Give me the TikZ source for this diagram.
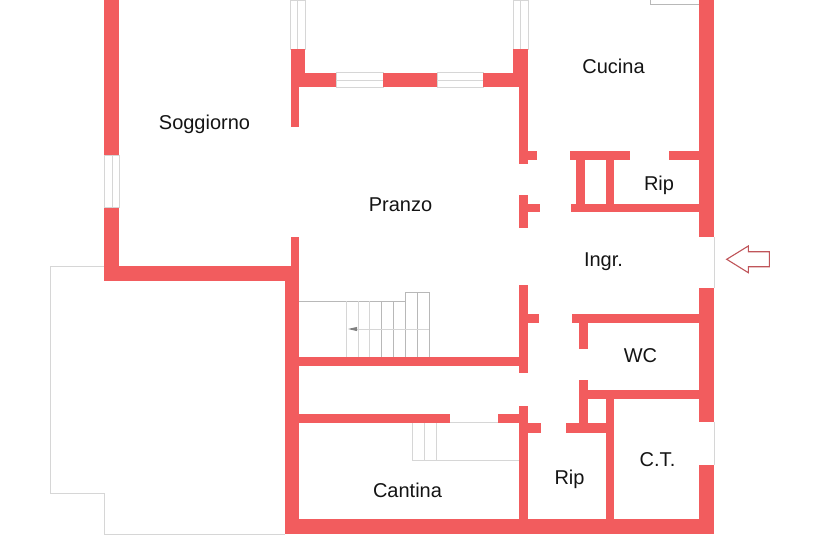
\documentclass[tikz,border=0pt]{standalone}
\usepackage{fontspec}
\setmainfont{Liberation Sans}
\definecolor{wallred}{HTML}{F25C5E}
\definecolor{thinline}{HTML}{D6D6D6}
\definecolor{arrowred}{HTML}{C0555A}
\newcommand{\wallrect}[4]{\fill[wallred] (#1,#2) rectangle (#3,#4);}
\newcommand{\winrect}[4]{\draw[thinmark,fill=white] (#1,#2) rectangle (#3,#4);}
\tikzset{
  thinmark/.style={draw=thinline,line width=0.9pt},
  stairmark/.style={draw=black!28,line width=0.7pt},
  stairlight/.style={draw=thinline,line width=0.8pt},
  roomlabel/.style={font=\fontsize{20}{24}\selectfont,text=black!92,inner sep=0pt}
}
\begin{document}
\begin{tikzpicture}[x=1pt,y=-1pt]
\useasboundingbox (0,0) rectangle (818,540);
\fill[white] (0,0) rectangle (818,540);
% outlines
\draw[thinmark] (104,266) -- (50.7,266) -- (50.7,493.3) -- (104,493.3) -- (104,534.3) -- (285,534.3);
\draw[stairmark] (650,0) -- (650,4.3) -- (699.3,4.3);
\draw[thinmark] (714.2,237) -- (714.2,288.3);
\draw[thinmark] (714.2,421.7) -- (714.2,465);
% windows
\winrect{104.5}{155}{119.5}{207.5}
\draw[thinmark] (112,155) -- (112,207.5);
\winrect{290.5}{0}{305.3}{49}
\draw[thinmark] (297.8,0) -- (297.8,49);
\winrect{513.5}{0}{528.3}{49}
\draw[thinmark] (520.8,0) -- (520.8,49);
\winrect{336}{72.7}{383}{87.3}
\draw[thinmark] (336,80) -- (383,80);
\winrect{437}{72.7}{483}{87.3}
\draw[thinmark] (437,80) -- (483,80);
% stairs
\draw[stairmark] (299,301) -- (405.3,301);
\draw[stairmark] (405.3,292.3) -- (429,292.3);
\foreach \sx in {346,358,369.3} {\draw[stairlight] (\sx,301) -- (\sx,357.5);}
\foreach \sx in {381.3,393.3} {\draw[stairmark] (\sx,301) -- (\sx,357.5);}
\foreach \sx in {405.3,417.3,429} {\draw[stairmark] (\sx,292.3) -- (\sx,357.5);}
\draw[stairlight] (357,329) -- (429,329);
\fill[black!50] (348,329) -- (357,326.9) -- (357,331.1) -- cycle;
\draw[stairlight] (450,422.7) -- (498.3,422.7);
\foreach \sx in {412.3,424.3,436.3} {\draw[stairlight] (\sx,422.7) -- (\sx,460.3);}
\draw[stairlight] (412.3,460.3) -- (519.3,460.3);
% exterior and left walls
\wallrect{104.3}{0}{119}{155}
\wallrect{104.3}{207.5}{119}{281}
\wallrect{104.3}{266}{299.3}{281}
\wallrect{290.5}{237}{299.3}{281}
\wallrect{285}{281}{299.3}{534.3}
\wallrect{285}{519.3}{714}{534.3}
\wallrect{699.3}{0}{714}{237}
\wallrect{699.3}{288.3}{714}{421.7}
\wallrect{699.3}{465}{714}{534.3}
% upper central walls
\wallrect{290.5}{49}{305}{87.3}
\wallrect{290.5}{49}{299.3}{127}
\wallrect{290.5}{72.7}{336}{87.3}
\wallrect{383}{72.7}{437}{87.3}
\wallrect{483}{72.7}{528.3}{87.3}
\wallrect{513.3}{49}{528.3}{87.3}
\wallrect{519.3}{49}{528.3}{164.3}
\wallrect{519.3}{150.7}{536.7}{160}
\wallrect{519.3}{195}{528.3}{228.3}
\wallrect{519.3}{204}{540}{212.3}
% upper right rooms
\wallrect{570.3}{150.7}{630}{160}
\wallrect{669.3}{150.7}{699.5}{160}
\wallrect{576}{160}{585}{204.5}
\wallrect{606}{160}{614.3}{204.5}
\wallrect{571}{204}{699.5}{212.3}
% lower central walls
\wallrect{519.3}{285}{528.3}{373.3}
\wallrect{519.3}{313.7}{538.7}{322.7}
\wallrect{299}{357.3}{519.5}{366}
\wallrect{299}{414}{450}{422.7}
\wallrect{498.3}{414}{519.5}{422.7}
\wallrect{519.3}{406}{528.3}{519.5}
\wallrect{519.3}{423.3}{541}{432.7}
% lower right rooms
\wallrect{572}{313.7}{699.5}{322.7}
\wallrect{579}{322.7}{588.3}{349.3}
\wallrect{579}{390}{699.5}{398.7}
\wallrect{579}{380.3}{588.3}{423.5}
\wallrect{565.7}{423.3}{606.2}{432.7}
\wallrect{606}{390}{614.3}{519.5}
% entrance arrow
\draw[arrowred,line width=1.1pt,fill=white,line join=miter] (726.7,259.3) -- (748.3,246) -- (748.3,251.7) -- (769.3,251.7) -- (769.3,266.7) -- (748.3,266.7) -- (748.3,272.7) -- cycle;
% labels
\node[roomlabel] (soggiorno) at (204.5,124) {Soggiorno};
\node[roomlabel] (pranzo) at (400.5,205) {Pranzo};
\node[roomlabel] (cucina) at (613.5,66) {Cucina};
\node[roomlabel] (ripa) at (659,185.5) {Rip};
\node[roomlabel] (ingr) at (603.5,262) {Ingr.};
\node[roomlabel] (wc) at (640.5,356) {WC};
\node[roomlabel] (ct) at (657.5,460) {C.T.};
\node[roomlabel] (cantina) at (407.5,490) {Cantina};
\node[roomlabel] (ripb) at (569.5,479) {Rip};
\end{tikzpicture}
\end{document}
